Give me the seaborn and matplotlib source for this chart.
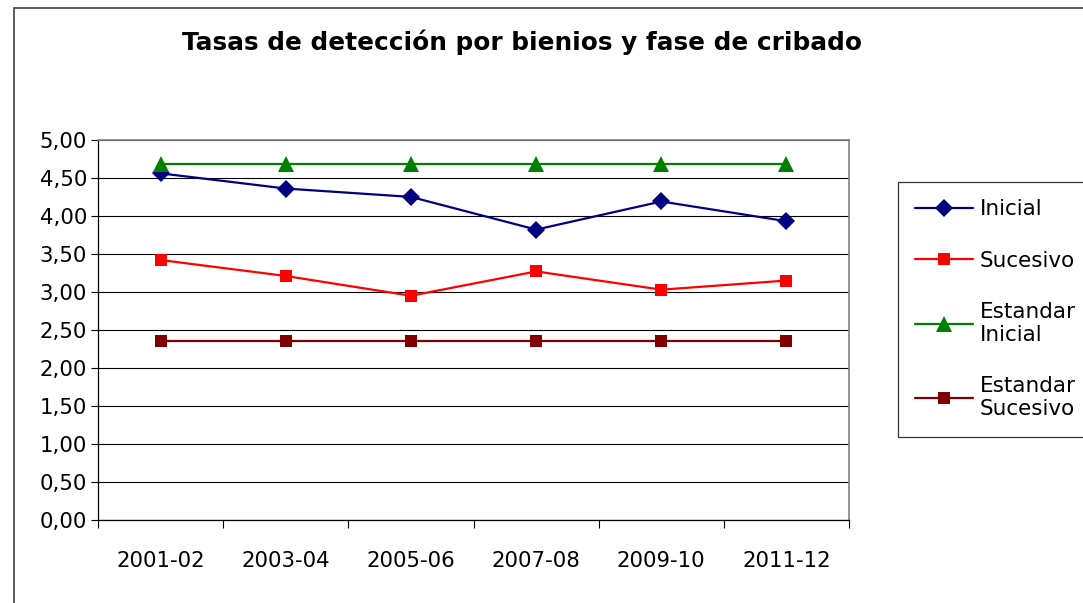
import pandas as pd
import seaborn as sns
import matplotlib.pyplot as plt
from matplotlib.patches import Rectangle
from matplotlib.ticker import FuncFormatter, FixedLocator

bienios = ["2001-02", "2003-04", "2005-06", "2007-08", "2009-10", "2011-12"]
inicial = [4.56, 4.36, 4.25, 3.82, 4.19, 3.93]
sucesivo = [3.42, 3.21, 2.95, 3.27, 3.03, 3.15]
estandar_inicial = [4.68, 4.68, 4.68, 4.68, 4.68, 4.68]
estandar_sucesivo = [2.35, 2.35, 2.35, 2.35, 2.35, 2.35]
series = ["Inicial", "Sucesivo", "Estandar Inicial", "Estandar Sucesivo"]

df = pd.concat([
    pd.DataFrame({"bienio": bienios, "tasa": v, "serie": s})
    for s, v in zip(series, [inicial, sucesivo, estandar_inicial, estandar_sucesivo])
])

sns.set_style("white")
plt.rcParams["font.family"] = ["DejaVu Sans"]
plt.rcParams["text.color"] = "black"
plt.rcParams["xtick.color"] = "black"
plt.rcParams["ytick.color"] = "black"

fig = plt.figure(figsize=(10.83, 6.03), dpi=100)
ax = fig.add_axes([0.0905, 0.1376, 0.6935, 0.6304])

palette = {"Inicial": "#000080", "Sucesivo": "#FF0000",
           "Estandar Inicial": "#008000", "Estandar Sucesivo": "#800000"}
markers = {"Inicial": "D", "Sucesivo": "s",
           "Estandar Inicial": "^", "Estandar Sucesivo": "s"}
sns.lineplot(data=df, x="bienio", y="tasa", hue="serie", style="serie",
             palette=palette, markers=markers, dashes=False, ax=ax,
             linewidth=1.6, markersize=9, markeredgewidth=0, sort=False)
for ln in ax.lines:
    if ln.get_marker() == "^":
        ln.set_markersize(11)

ax.set_ylim(0, 5)
ax.set_xlim(-0.5, 5.5)
ax.set_yticks([i * 0.5 for i in range(11)])
ax.yaxis.set_major_formatter(FuncFormatter(lambda v, p: f"{v:.2f}".replace(".", ",")))
ax.grid(axis="y", color="black", linewidth=0.8)
ax.set_axisbelow(True)
ax.set_xlabel("")
ax.set_ylabel("")

ax.xaxis.set_minor_locator(FixedLocator([i - 0.5 for i in range(7)]))
ax.tick_params(axis="x", which="major", length=0, pad=22, labelsize=15.3)
ax.tick_params(axis="x", which="minor", length=6, width=0.8, color="black", bottom=True)
ax.tick_params(axis="y", length=5, width=0.8, color="black", pad=3, labelsize=15.3, left=True)

for side in ["left", "bottom"]:
    ax.spines[side].set_color("black")
    ax.spines[side].set_linewidth(0.9)
for side in ["top", "right"]:
    ax.spines[side].set_color("#808080")
    ax.spines[side].set_linewidth(1.2)

handles, labels = ax.get_legend_handles_labels()
for h in handles:
    if h.get_marker() == "^":
        h.set_markersize(11)
labels = [l.replace("Estandar ", "Estandar\n") for l in labels]
leg = ax.legend(handles, labels, loc="upper left", bbox_to_anchor=(0.829, 0.698),
                bbox_transform=fig.transFigure, fontsize=15.5, frameon=True,
                fancybox=False, edgecolor="black", handlelength=2.7,
                handletextpad=0.3, labelspacing=1.45, borderpad=0.8,
                borderaxespad=0)
leg.get_frame().set_linewidth(0.9)

fig.text(0.482, 0.93, "Tasas de detección por bienios y fase de cribado",
         ha="center", va="center", fontsize=17.8, fontweight="bold")

fig.patches.append(Rectangle((14 / 1083, -0.1), 2.0, 1.087, transform=fig.transFigure,
                             fill=False, edgecolor="#404040", linewidth=1.2))

plt.savefig("out.png", dpi=100)
